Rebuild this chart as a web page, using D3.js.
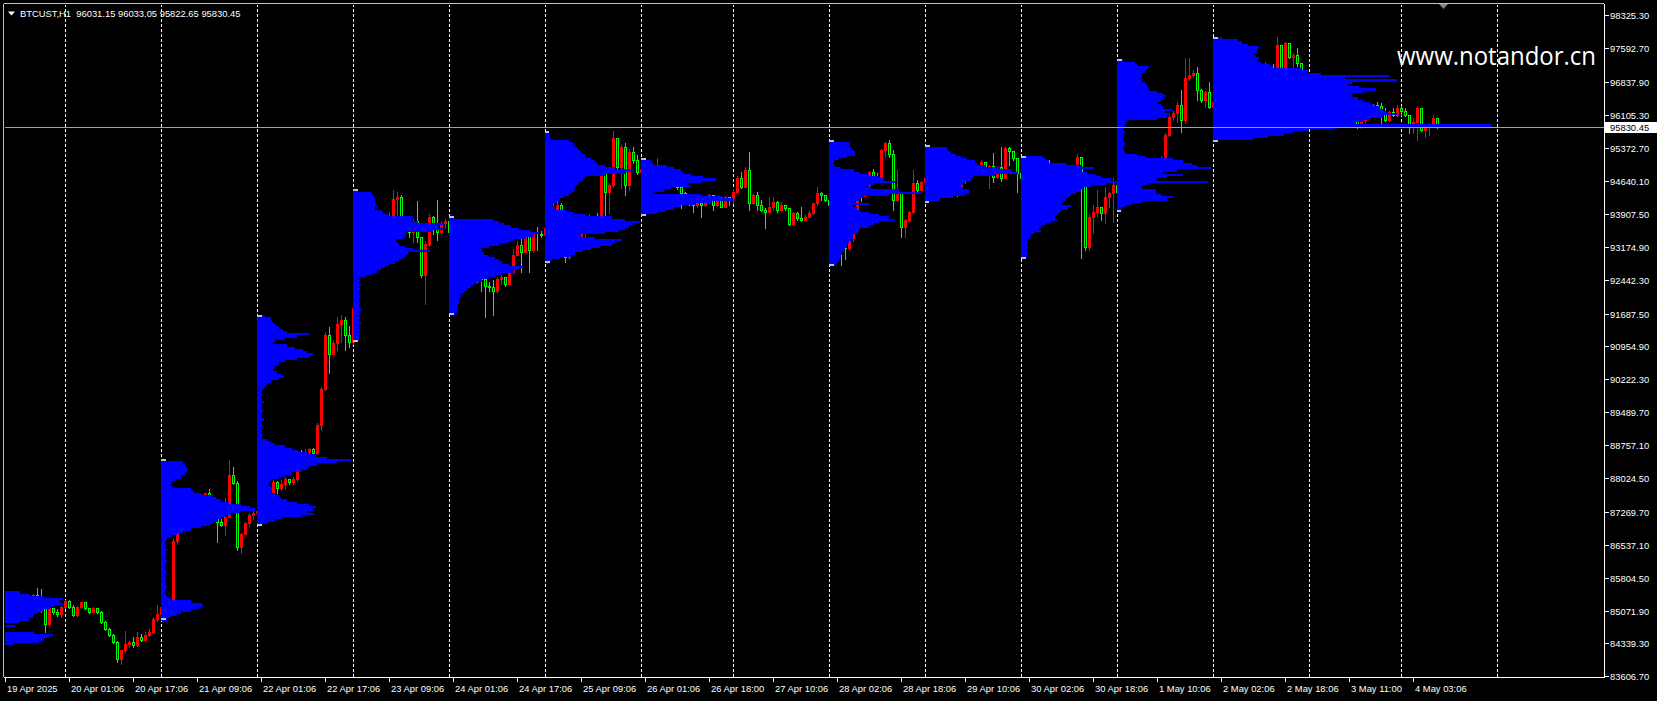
<!DOCTYPE html>
<html><head><meta charset="utf-8">
<script src="https://cdn.jsdelivr.net/npm/d3@7"></script>
<style>
html,body{margin:0;padding:0;background:#000;overflow:hidden;}
svg{display:block;}
</style></head><body>
<script>
// ---------------- DATA ----------------
const symbolTitle = "BTCUST,H1";
const headerOHLC = ["96031.15", "96033.05", "95822.65", "95830.45"];
const lastPrice = 95830.45;
const watermark = "www.notandor.cn";

const priceTicks = [98325.30, 97592.70, 96837.90, 96105.30, 95372.70, 94640.10, 93907.50, 93174.90, 92442.30,
  91687.50, 90954.90, 90222.30, 89489.70, 88757.10, 88024.50, 87269.70, 86537.10, 85804.50, 85071.90, 84339.30, 83606.70];

const timeLabels = ["19 Apr 2025","20 Apr 01:06","20 Apr 17:06","21 Apr 09:06","22 Apr 01:06","22 Apr 17:06",
  "23 Apr 09:06","24 Apr 01:06","24 Apr 17:06","25 Apr 09:06","26 Apr 01:06","26 Apr 18:00","27 Apr 10:06",
  "28 Apr 02:06","28 Apr 18:06","29 Apr 10:06","30 Apr 02:06","30 Apr 18:06","1 May 10:06","2 May 02:06",
  "2 May 18:06","3 May 11:00","4 May 03:06"];
const timeLabelBars = [0,16,32,48,64,80,96,112,128,144,160,176,192,208,224,240,256,272,288,304,320,336,352];
const dayStartBars = [15,39,63,87,111,135,159,182,206,230,254,278,302,326,349,373];

const firstOpen = 85200;
const closes = [85250,85300,85220,85280,85350,85300,85330,85415,85341,85120,
84782,85118,85043,85000,85155,85282,85155,84969,85155,85252,
85118,85043,85120,85043,84820,84670,84521,84372,84000,84186,
84335,84372,84298,84484,84410,84520,84600,84894,85006,85150,
85100,85230,86630,86900,87200,87100,87400,87550,87500,87500,
87680,87500,87160,87050,86980,87164,88090,87902,86491,86788,
87011,87197,87250,87300,87450,87300,87680,87939,87800,87900,
88000,87940,88000,88600,88560,88600,88680,88570,89201,90017,
91205,90797,91020,91465,91539,91205,91050,91800,92900,93300,
93700,93500,93600,93300,93280,93500,93840,94249,94290,93803,
93700,93500,93750,93400,92550,93246,93840,93600,93500,93700,
93750,93500,93300,93100,93200,92900,92700,92800,92500,92450,
92300,92281,92200,92467,92504,92356,92615,93000,93209,93061,
93432,93098,93469,93450,93440,93600,93800,94000,94100,93150,
92954,93139,93250,93300,93473,93600,93800,93770,93700,94959,
94401,94550,95589,94959,95404,94550,95292,95100,94847,94900,
94950,94800,94900,95000,94884,94810,94750,94600,94513,94364,
94300,94200,94105,94142,94100,94179,94327,94105,94216,94070,
94290,94253,94401,94698,94513,94884,94142,94327,94105,94000,
93956,94067,94179,94000,94100,94030,93680,93919,93807,93770,
93845,93919,94142,94364,94327,94216,94100,93800,93500,93300,
93150,93362,93700,94327,94300,94550,94847,94750,94698,95329,
95478,95250,94216,94364,93622,93770,93956,94587,94438,94624,
94700,94800,94650,94500,94600,94450,94400,94500,94400,94661,
94800,94921,94850,94950,95069,94921,94980,94736,94959,94698,
95366,95300,95150,94810,94700,94500,94300,94100,94400,94700,
95032,94900,94800,94700,94900,94700,94735,94810,95181,94587,
93177,93845,93950,94068,93919,94290,94364,94550,94400,94350,
94327,94438,94500,94700,94900,94800,94950,95000,94900,95144,
95664,96072,96146,96332,96000,96925,96999,97037,96666,96443,
96628,96294,96400,96600,96500,96700,96800,96700,96900,96850,
96950,97100,97000,97150,97100,97200,97150,97148,97668,97111,
97705,97408,97445,97259,97037,96600,96400,96300,96200,96350,
96250,96100,96200,96150,96250,96100,96000,96050,95850,95998,
96072,96220,96332,96300,96146,95998,96183,96100,96257,96200,
96109,95849,95950,96257,95775,95886,95900,96031.15,95830.45];

const highs = [85350,85380,85330,85350,85420,85400,85400,85440,85565,85550,
85150,85150,85130,85100,85180,85300,85300,85200,85170,85270,
85260,85130,85160,85130,85060,84830,84690,84540,84400,84200,
84620,84400,84484,84590,84560,84600,84660,84920,85192,85250,
85200,85300,86680,87000,87300,87350,87500,87650,87600,87580,
87700,87772,87480,87498,87100,87572,88422,88260,87950,86800,
87050,87250,87300,87400,87550,87500,87700,87980,87950,87976,
88050,88013,88050,88620,88650,88680,88700,88690,89250,90050,
91279,91391,91100,91613,91651,91613,91400,91900,93050,93400,
93900,93800,93750,93650,93350,93600,93950,94434,94400,94323,
93850,93750,93803,94200,93100,93300,93900,93850,94211,93750,
93800,93800,93600,93350,93300,93250,92950,92900,92850,92600,
92467,92400,92430,92500,92550,92500,92650,93135,93300,93358,
93450,93400,93500,93620,93520,93700,93900,94150,94200,94142,
93200,93200,93350,93400,93550,93700,93900,93845,93919,94980,
94959,94600,95760,95600,95450,95478,95350,95404,95218,95000,
95050,95000,95000,95144,95000,94900,94850,94780,94650,94513,
94400,94350,94250,94200,94179,94200,94350,94327,94253,94290,
94300,94290,94450,94750,94847,94959,95292,94350,94401,94216,
94030,94290,94290,94200,94179,94110,94040,93950,93950,94067,
93880,93960,94160,94513,94400,94327,94250,94150,93850,93450,
93350,93400,93800,94350,94400,94600,94870,94900,94810,95350,
95500,95552,95329,94884,94370,93800,93980,94884,94661,94650,
94800,94950,94850,94700,94700,94650,94550,94600,94550,94700,
94900,95069,94950,95000,95100,95069,95000,95255,94980,95404,
95400,95400,95300,95144,94850,94750,94550,94350,94500,94800,
95100,95100,94950,94850,94958,94900,94850,94850,95250,95181,
94587,93900,94100,94438,94068,94513,94400,94698,94600,94450,
94400,94480,94550,94800,95000,95000,95050,95100,95050,95200,
95700,96100,96200,96400,96666,97371,97371,97100,97185,96680,
96650,96851,96500,96700,96700,96800,96900,96850,97000,96950,
97050,97200,97150,97250,97200,97300,97250,97250,97853,97668,
97742,97710,97500,97593,97260,97050,96650,96450,96350,96400,
96400,96300,96300,96250,96300,96300,96150,96120,96072,96050,
96100,96332,96360,96400,96369,96257,96200,96257,96332,96300,
96257,96109,96035,96280,96257,95900,95920,96109,96033.05];

const lows = [85150,85200,85150,85180,85250,85230,85260,85300,85320,85040,
84596,84720,85000,84950,84931,85130,85120,84950,84950,85120,
85100,85020,85030,85020,84800,84640,84500,84350,83925,83888,
84150,84260,84261,84280,84400,84400,84500,84580,84850,85000,
84980,85050,85200,86550,86850,87000,87050,87350,87400,87420,
87480,87480,87100,86607,86950,86755,87150,87880,86417,86343,
86780,86950,87100,87150,87250,87200,87234,87308,87700,87750,
87780,87900,87900,87950,88500,88520,88560,88550,88550,89100,
89980,90352,90800,90871,91057,90871,90950,91000,91700,92800,
93250,93300,93400,93200,93150,93200,93450,93766,93880,93780,
93600,93400,93283,93280,92500,91910,93200,93450,93320,93450,
93600,93400,93200,92900,92950,92800,92600,92550,92400,92200,
91613,92200,91650,92150,92350,92300,92350,92600,93000,92615,
93050,92615,93050,93102,93400,93350,93550,93750,93900,93100,
92843,92900,93100,93200,93300,93400,93550,93700,93650,93696,
93770,93919,94500,94900,94476,94327,94438,95050,94800,94750,
94800,94700,94750,94850,94850,94780,94650,94550,94450,94030,
94200,94100,93956,94050,93845,94080,94150,93993,94080,94050,
94067,94100,94142,94364,94480,94500,93993,94120,93993,93980,
93585,93950,94000,93956,93980,94000,93660,93650,93780,93750,
93760,93830,93900,94100,94216,94200,94000,93700,93400,92768,
92900,93102,93300,93650,94200,94300,94500,94700,94650,94661,
95181,95181,93993,94200,93399,93399,93733,93919,94400,94401,
94550,94650,94500,94400,94420,94350,94300,94350,94300,94364,
94600,94780,94800,94800,94900,94900,94476,94624,94700,94650,
94700,94995,95100,94401,94450,94350,94100,93900,94050,94350,
94700,94800,94700,94600,94661,94624,94700,94661,94800,92917,
93100,93103,93474,93850,93771,93696,94068,93733,94300,94250,
94200,94300,94350,94450,94650,94700,94750,94850,94850,94880,
95100,95650,96000,95960,95738,95923,96888,96950,96443,96400,
96294,96257,96200,96350,96400,96450,96650,96600,96650,96750,
96800,96900,96900,96950,97000,97050,97050,97050,97100,97050,
97100,97380,97148,97200,97000,96500,96300,96150,96100,96150,
96150,96000,96050,96050,96100,96000,95900,95950,95812,95812,
95923,96050,96200,96250,95849,95980,95980,96080,96080,96100,
96080,95701,95701,95552,95750,95626,95663,95850,95822.65];

// Volume profiles: one histogram per day, price bins of profileStep, volumes from the top price downward
const profileStep = 50;
const vpApr19 = [51,61,75,94,91,94,85,81,75,69,65,64,60,51,20,46,20,20,65,84,80,75,70,45];
const vpApr21 = [5,22,24,25,27,26,24,21,20,14,11,10,12,30,32,40,52,55,60,68,80,89,94,78,70,65,60,56,52,49,
  40,30,22,16,11,6,5,4,5,4,6,4,5,4,4,6,5,4,4,5,6,4,4,5,4,4,6,5,4,4,5,6,10,30,41,42,38,30,20,16,10,6];
const vpApr22 = [8,14,15,16,18,22,26,30,53,40,28,18,16,30,38,46,50,56,53,40,29,22,18,17,16,20,24,27,22,14,
  11,9,7,5,4,6,4,5,7,4,5,4,6,5,4,5,7,4,5,6,4,5,4,6,5,10,14,18,28,35,40,50,59,70,94,
  80,60,52,50,45,35,28,22,15,12,12,14,15,14,18,22,24,30,40,52,59,56,50,57,45,25,18,10,5];
const vpApr23 = [5,18,20,21,22,22,23,24,22,29,30,35,60,58,65,91,85,91,80,53,53,50,43,44,46,52,60,77,55,53,
  50,46,42,36,32,28,24,19,12,6,7,6,8,6,7,6,6,8,7,6,7,6,6,8,6,7,6,7,6,8,6,6,7,6,7,6,6,5];
const vpApr24 = [5,45,50,55,62,70,81,90,85,77,65,60,50,40,33,33,35,40,46,50,53,60,74,70,65,52,46,40,33,28,
  24,22,18,15,12,12,11,10,10,9,9,8,8,6];
const vpApr25 = [4,4,5,6,24,28,30,32,34,36,40,40,46,50,53,60,70,88,80,60,40,38,34,33,31,30,29,27,24,19,
  15,12,8,7,10,22,29,40,67,80,95,88,84,80,74,60,36,50,77,70,67,55,46,38,30,26,15,7,5];
const vpApr26 = [5,10,13,26,33,40,42,50,62,75,60,47,50,30,23,12,60,80,92,70,54,40,33,25,16,6];
const vpApr28 = [5,21,20,22,24,26,26,18,10,5,5,6,12,25,31,40,50,55,66,45,38,42,70,93,60,35,31,26,40,24,
  28,31,40,50,60,66,50,45,40,31,30,28,24,24,22,20,18,18,16,15,13,12,11,10,8,6];
const vpApr29 = [5,22,23,26,31,36,42,50,52,60,75,87,93,70,49,46,40,38,36,38,44,44,40,28,15,4];
const vpApr30 = [22,25,28,45,60,73,60,66,75,80,90,96,85,70,62,60,55,50,48,45,42,40,50,47,40,38,36,34,36,30,
  25,20,18,20,14,10,8,6,7,6,7,6,6,7,6,5];
const vpMay1 = [6,18,20,32,30,28,25,25,24,25,28,30,30,32,40,46,49,46,44,40,44,46,56,48,53,50,40,11,9,8,
  7,6,8,6,7,6,6,8,7,6,7,8,20,29,56,66,75,80,94,60,46,66,50,40,91,32,25,25,39,39,45,56,50,25,15,8,5,4];
const vpMay2 = [9,25,29,35,46,45,44,40,43,46,44,48,57,60,88,95,108,177,132,184,139,135,146,163,150,139,139,145,150,157,
  160,167,170,174,184,170,157,150,143,279,122,95,80,71,55,40,5];
const profileStartBars = [-9, 39, 63, 87, 111, 135, 159, 206, 230, 254, 278, 302];
const profileTopPrices = [85500, 88450, 91650, 94450, 93850, 95750, 95150, 95550, 95450, 95200, 97350, 97850];
const profileVolumes = [vpApr19, vpApr21, vpApr22, vpApr23, vpApr24, vpApr25, vpApr26, vpApr28, vpApr29, vpApr30, vpMay1, vpMay2];

// ---------------- DRAW ----------------
const W = 1657, H = 701;
const plot = {left: 4, top: 4, right: 1604, bottom: 677};
const FONT = "'Liberation Sans', Arial, sans-serif";
const UP = "#FF0000", DOWN = "#00FF00", VP = "#0000FF", VPMARK = "#B0C4DE";

const x = d3.scaleLinear().domain([0, 1]).range([5, 9]);           // bar index -> px (4 px per bar)
const y = d3.scaleLinear().domain([83606.7, 98325.3]).range([676.35, 15.48]);
const volX = d3.scaleLinear().domain([0, 100]).range([0, 100]);

const svg = d3.select("body").append("svg").attr("width", W).attr("height", H)
  .style("background", "#000").attr("shape-rendering", "crispEdges");

svg.append("defs").append("clipPath").attr("id", "plotclip").append("rect")
  .attr("x", plot.left + 1).attr("y", plot.top + 1)
  .attr("width", plot.right - plot.left - 1).attr("height", plot.bottom - plot.top - 1);

const gPlot = svg.append("g").attr("clip-path", "url(#plotclip)");

// grid (day separators)
gPlot.append("g").selectAll("line").data(dayStartBars).join("line")
  .attr("x1", d => x(d) + 0.5).attr("x2", d => x(d) + 0.5)
  .attr("y1", plot.top).attr("y2", plot.bottom)
  .attr("stroke", "#FFFFFF").attr("stroke-width", 1).attr("stroke-dasharray", "3,2");

// candles
const bars = closes.map((c, i) => {
  const o = i === 0 ? firstOpen : closes[i - 1];
  return {i, o, c, h: Math.max(highs[i], o, c), l: Math.min(lows[i], o, c), up: c >= o};
});
const gC = gPlot.append("g");
gC.selectAll("line").data(bars).join("line")
  .attr("x1", d => x(d.i) + 0.5).attr("x2", d => x(d.i) + 0.5)
  .attr("y1", d => Math.round(y(d.h))).attr("y2", d => Math.round(y(d.l)) + 1)
  .attr("stroke", d => d.up ? UP : DOWN).attr("stroke-width", 1);
gC.selectAll("rect.up").data(bars.filter(d => d.up)).join("rect").attr("class", "up")
  .attr("x", d => x(d.i) - 1).attr("width", 3)
  .attr("y", d => Math.round(y(d.c)))
  .attr("height", d => Math.max(1, Math.round(y(d.o)) - Math.round(y(d.c)) + 1))
  .attr("fill", UP);
gC.selectAll("rect.dn").data(bars.filter(d => !d.up)).join("rect").attr("class", "dn")
  .attr("x", d => x(d.i) - 0.5).attr("width", 2)
  .attr("y", d => Math.round(y(d.o)) + 0.5)
  .attr("height", d => Math.max(0, Math.round(y(d.c)) - Math.round(y(d.o))))
  .attr("fill", "#000").attr("stroke", DOWN).attr("stroke-width", 1);

// volume profiles
const rows = [];
profileVolumes.forEach((vols, p) => {
  const x0 = x(profileStartBars[p]);
  vols.forEach((v, k) => {
    const y0 = Math.round(y(profileTopPrices[p] - k * profileStep));
    const y1 = Math.round(y(profileTopPrices[p] - (k + 1) * profileStep));
    rows.push({x0, y0, h: Math.max(1, y1 - y0), w: volX(v), mark: k === 0 || k === vols.length - 1});
  });
});
const gV = gPlot.append("g");
gV.selectAll("rect.v").data(rows).join("rect").attr("class", "v")
  .attr("x", d => d.x0).attr("y", d => d.y0).attr("width", d => d.w).attr("height", d => d.h)
  .attr("fill", VP);
gV.selectAll("rect.m").data(rows.filter(d => d.mark)).join("rect").attr("class", "m")
  .attr("x", d => d.x0).attr("y", d => d.y0).attr("width", d => Math.min(5, d.w)).attr("height", 2)
  .attr("fill", VPMARK);

// price (bid) line
const yLast = Math.round(y(lastPrice)) + 0.5;
gPlot.append("line").attr("x1", plot.left).attr("x2", plot.right).attr("y1", yLast).attr("y2", yLast)
  .attr("stroke", "#A0A0A0").attr("stroke-width", 1);

// chart shift marker
svg.append("path").attr("d", "M1439,4 L1448,4 L1443.5,9 Z").attr("fill", "#808080")
  .attr("shape-rendering", "auto");

// frame / axes
svg.append("line").attr("x1", plot.left - 0.5).attr("x2", plot.left - 0.5).attr("y1", plot.top).attr("y2", plot.bottom)
  .attr("stroke", "#C0C0C0");
svg.append("line").attr("x1", plot.left).attr("x2", plot.right).attr("y1", plot.top - 0.5).attr("y2", plot.top - 0.5)
  .attr("stroke", "#C0C0C0");
svg.append("line").attr("x1", plot.right + 0.5).attr("x2", plot.right + 0.5).attr("y1", plot.top).attr("y2", plot.bottom + 1)
  .attr("stroke", "#FFFFFF");
svg.append("line").attr("x1", plot.left).attr("x2", plot.right + 1).attr("y1", plot.bottom + 0.5).attr("y2", plot.bottom + 0.5)
  .attr("stroke", "#FFFFFF");

// price axis
const gY = svg.append("g");
gY.selectAll("line").data(priceTicks).join("line")
  .attr("x1", plot.right + 1).attr("x2", plot.right + 5)
  .attr("y1", d => Math.round(y(d)) + 0.5).attr("y2", d => Math.round(y(d)) + 0.5)
  .attr("stroke", "#FFFFFF");
gY.selectAll("text").data(priceTicks).join("text")
  .attr("x", plot.right + 6).attr("y", d => Math.round(y(d)) + 3.5)
  .attr("fill", "#FFFFFF").style("font-family", FONT).style("font-size", "9.4px")
  .text(d => d.toFixed(2));
svg.append("rect").attr("x", plot.right + 1).attr("y", Math.round(y(lastPrice)) - 5)
  .attr("width", W - plot.right - 1).attr("height", 11).attr("fill", "#FFFFFF");
svg.append("text").attr("x", plot.right + 6).attr("y", Math.round(y(lastPrice)) + 4)
  .attr("fill", "#000").style("font-family", FONT).style("font-size", "9.4px").text(lastPrice.toFixed(2));

// time axis
const gX = svg.append("g");
gX.selectAll("line").data(timeLabelBars).join("line")
  .attr("x1", d => x(d) + 0.5).attr("x2", d => x(d) + 0.5)
  .attr("y1", plot.bottom + 1).attr("y2", plot.bottom + 5).attr("stroke", "#FFFFFF");
gX.selectAll("text").data(timeLabels).join("text")
  .attr("x", (d, i) => x(timeLabelBars[i]) + 2).attr("y", 692)
  .attr("fill", "#FFFFFF").style("font-family", FONT).style("font-size", "9.4px")
  .text(d => d);

// header
svg.append("path").attr("d", "M8,11.5 L15,11.5 L11.5,15.5 Z").attr("fill", "#FFFFFF").attr("shape-rendering", "auto");
svg.append("text").attr("x", 20).attr("y", 16.5).attr("fill", "#FFFFFF")
  .style("font-family", FONT).style("font-size", "9.4px").attr("xml:space", "preserve")
  .text(symbolTitle + "  " + headerOHLC.join(" "));

// watermark (horizontally condensed with a transform so its box stays inside the plot)
const wm = svg.append("text").attr("x", 0).attr("y", 0).attr("fill", "#FFFFFF")
  .style("font-family", "'Open Sans', 'Noto Sans', sans-serif").style("font-size", "26px")
  .text(watermark);
const natW = wm.node().getComputedTextLength();
wm.attr("transform", `translate(1397,64.5) scale(${(199 / natW).toFixed(4)},1)`);
</script>
</body></html>
